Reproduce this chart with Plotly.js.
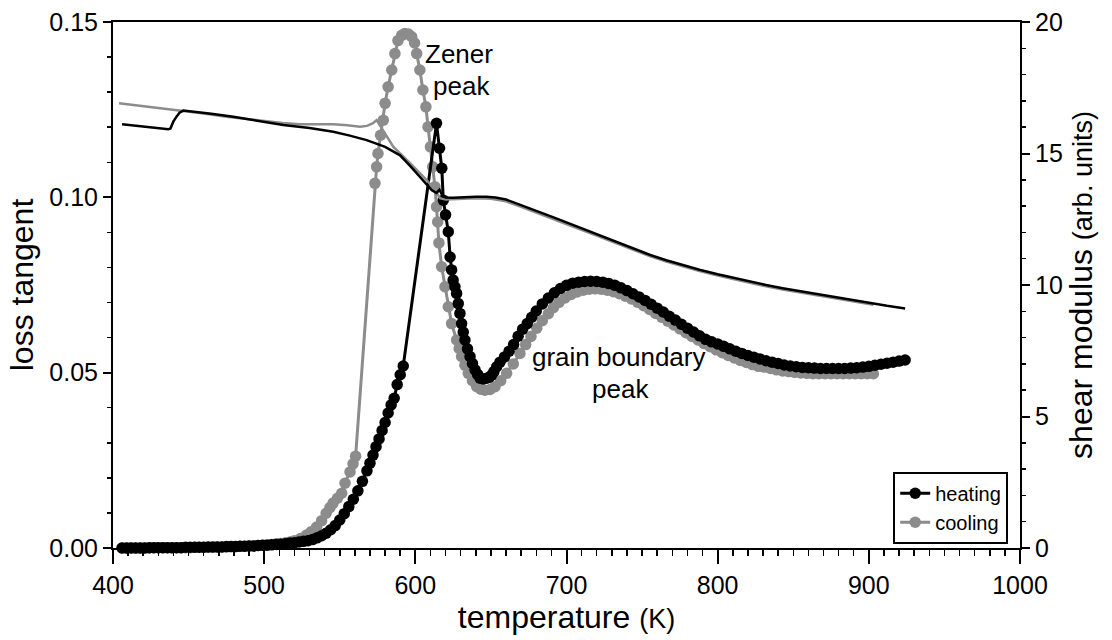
<!DOCTYPE html>
<html><head><meta charset="utf-8">
<script src="https://cdn.plot.ly/plotly-3.0.1.min.js"></script>
<style>html,body{margin:0;padding:0;background:#fff;}#chart{width:1112px;height:640px;}</style>
</head><body><div id="chart"></div>
<script>
// ---- data ----
const heatT = [406,409,412,415,418,421,424,427,430,433,436,439,442,445,448,451,454,457,460,463,466,469,472,475,478,481,484,487,490,493,496,499,502,505,508,511,514,517,520,523,526,529,532,535,538,541,544,547,550,553,556,559,562,565,568,570,572,574,576,578,580,582,584,586,588,590,592,
614,616,617.5,618.5,620,621.8,623,624,625,626.2,627.3,628.4,629.5,630.6,631.7,632.8,634.5,636.2,637.8,639.5,641.2,642.8,645,647.2,649,650.5,652,653.8,656,659,662,665,668,671,674,677,680,684,688,692,696,700,704,708,712,716,720,724,728,732,736,740,744,748,752,756,760,764,768,772,776,780,784,788,792,796,800,804,808,812,816,820,824,828,832,836,840,844,848,852,856,860,864,868,872,876,880,884,888,892,896,900,904,908,912,916,920,924];
const heatTan = [0.0000,0.0000,0.0000,0.0000,0.0000,0.0000,0.0001,0.0001,0.0001,0.0001,0.0001,0.0001,0.0001,0.0001,0.0002,0.0002,0.0002,0.0002,0.0002,0.0003,0.0003,0.0003,0.0003,0.0004,0.0004,0.0004,0.0005,0.0005,0.0006,0.0006,0.0007,0.0008,0.0008,0.0009,0.0010,0.0011,0.0012,0.0014,0.0015,0.0017,0.0019,0.0021,0.0024,0.0029,0.0035,0.0042,0.0052,0.0064,0.0080,0.0098,0.0118,0.0139,0.0163,0.0190,0.0220,0.0242,0.0265,0.0289,0.0311,0.0335,0.0358,0.0385,0.0408,0.0427,0.0466,0.0494,0.0519,
0.1211,0.1140,0.1083,0.0992,0.0950,0.0902,0.0830,0.0793,0.0764,0.0745,0.0726,0.0697,0.0669,0.0640,0.0616,0.0593,0.0568,0.0546,0.0526,0.0508,0.0495,0.0484,0.0482,0.0484,0.0487,0.0493,0.0503,0.0517,0.0530,0.0545,0.0561,0.0580,0.0604,0.0624,0.0640,0.0658,0.0676,0.0696,0.0713,0.0728,0.0740,0.0749,0.0755,0.0758,0.0760,0.0761,0.0760,0.0758,0.0754,0.0749,0.0742,0.0734,0.0725,0.0716,0.0706,0.0695,0.0684,0.0673,0.0661,0.0650,0.0638,0.0627,0.0616,0.0605,0.0595,0.0588,0.0582,0.0575,0.0568,0.0561,0.0555,0.0549,0.0544,0.0539,0.0534,0.0530,0.0526,0.0522,0.0519,0.0517,0.0515,0.0514,0.0513,0.0512,0.0512,0.0512,0.0512,0.0512,0.0513,0.0514,0.0516,0.0518,0.0521,0.0524,0.0527,0.0530,0.0533,0.0536,0.0538];

const coolT = [406,409,412,415,418,421,424,427,430,433,436,439,442,445,448,451,454,457,460,463,466,469,472,475,478,481,484,487,490,493,496,499,502,505,508,511,514,517,520,524,528,531,534.7,538,541,543.5,545.6,548.5,551.3,553.5,556.8,558.8,560.5,
573.3,574.4,575.3,577,578.8,580,582,584.4,586.5,588.5,591,593,595.3,597.6,599.5,600.9,603,605,607,608.4,610,611.5,613,614,614.8,615.6,617.4,619.6,621.8,624,627.3,629,630.6,632.8,635,637.8,640.6,643.3,646,649.4,652.7,656.5,660.4,664.8,669.2,673,676.5,680.3,684,688,691.3,695,699,703,707,711,715,719,723,727,731,735,739,743,747,751,755,759,763,767,771,775,779,783,787,791,795,799,803,807,811,815,819,823,827,831,835,839,843,847,851,855,859,863,867,871,875,879,883,887,891,895,899,903];
const coolTan = [0.0000,0.0000,0.0000,0.0000,0.0000,0.0000,0.0000,0.0001,0.0001,0.0001,0.0001,0.0001,0.0001,0.0001,0.0001,0.0001,0.0002,0.0002,0.0002,0.0002,0.0002,0.0003,0.0003,0.0003,0.0004,0.0004,0.0005,0.0005,0.0006,0.0006,0.0007,0.0008,0.0009,0.0010,0.0012,0.0013,0.0015,0.0017,0.0021,0.0027,0.0037,0.0046,0.0060,0.0078,0.0099,0.0115,0.0128,0.0142,0.0156,0.0185,0.0217,0.0240,0.0262,
0.1040,0.1087,0.1125,0.1177,0.1220,0.1268,0.1315,0.1363,0.1410,0.1447,0.1462,0.1467,0.1466,0.1458,0.1440,0.1410,0.1363,0.1306,0.1258,0.1201,0.1144,0.1087,0.1030,0.0973,0.0930,0.0870,0.0802,0.0745,0.0688,0.0640,0.0593,0.0569,0.0546,0.0521,0.0498,0.0477,0.0460,0.0453,0.0450,0.0452,0.0460,0.0477,0.0498,0.0525,0.0555,0.0580,0.0603,0.0627,0.0648,0.0668,0.0685,0.0700,0.0713,0.0723,0.0730,0.0735,0.0738,0.0739,0.0738,0.0735,0.0731,0.0725,0.0718,0.0710,0.0701,0.0691,0.0680,0.0669,0.0658,0.0647,0.0636,0.0625,0.0614,0.0603,0.0593,0.0583,0.0574,0.0565,0.0557,0.0549,0.0542,0.0535,0.0529,0.0523,0.0518,0.0516,0.0512,0.0508,0.0505,0.0503,0.0501,0.0499,0.0498,0.0497,0.0497,0.0497,0.0497,0.0497,0.0497,0.0497,0.0497,0.0497,0.0497,0.0497];

const heatShearT = [406,415,425,436.6,438,439.9,442,444,446.5,455,465,479.6,495,512.7,530,545.7,556,567.8,580,589.9,597,603,607,610.8,614,616,618,620,625,630,635,640,647,653,660,665,670,680,691,702,713,724,735,744,755,766,777,788,800,810,821,832,843,854,865,876,888,900,912,924];
const heatShear = [16.11,16.06,16.00,15.92,15.95,16.21,16.40,16.55,16.63,16.58,16.51,16.40,16.25,16.08,15.97,15.83,15.69,15.51,15.25,14.93,14.50,14.12,13.85,13.61,13.50,13.62,13.38,13.33,13.32,13.34,13.35,13.36,13.36,13.33,13.25,13.15,13.02,12.82,12.58,12.33,12.09,11.84,11.60,11.38,11.15,10.94,10.75,10.58,10.41,10.28,10.14,10.00,9.88,9.77,9.66,9.56,9.44,9.32,9.21,9.11];

const coolShearT = [404,420,435,446.5,460,475,490,501.7,512,523.7,535,545.8,555,563.4,568,572,574.4,585.4,596.5,607.5,613,616.3,620,630,640,650,660,670,680,691,702,713,724,735,744,755,766,777,788,800,810,821,832,843,854,865,876,888,900,903];
const coolShear = [16.91,16.80,16.70,16.63,16.52,16.40,16.30,16.21,16.16,16.11,16.11,16.11,16.07,16.02,16.05,16.15,16.27,15.26,14.63,13.99,13.61,13.30,13.25,13.28,13.30,13.28,13.18,12.97,12.76,12.52,12.27,12.03,11.78,11.54,11.33,11.10,10.89,10.70,10.53,10.36,10.23,10.09,9.95,9.83,9.72,9.61,9.51,9.39,9.28,9.25];

const seriesNames = ['heating','cooling'];
const xTicks = [400,500,600,700,800,900,1000];

// ---- chart ----
const BLACK = '#000000', GRAY = '#8c8c8c';
const traces = [
  {x: coolShearT, y: coolShear, yaxis: 'y2', mode: 'lines', line: {color: GRAY, width: 2.5}, showlegend: false, cliponaxis: false},
  {x: heatShearT, y: heatShear, yaxis: 'y2', mode: 'lines', line: {color: BLACK, width: 2.5}, showlegend: false, cliponaxis: false},
  {x: coolT, y: coolTan, name: seriesNames[1], mode: 'lines+markers', line: {color: GRAY, width: 3}, marker: {color: GRAY, size: 11.5}, legendrank: 2, cliponaxis: false},
  {x: heatT, y: heatTan, name: seriesNames[0], mode: 'lines+markers', line: {color: BLACK, width: 3}, marker: {color: BLACK, size: 11.5}, legendrank: 1, cliponaxis: false}
];
const FONT = 'Liberation Sans, Arial, sans-serif';
const layout = {
  width: 1112, height: 640,
  margin: {l: 113, r: 92, t: 22, b: 92},
  paper_bgcolor: '#fff', plot_bgcolor: '#fff',
  font: {family: FONT, color: '#000', size: 25},
  showlegend: true,
  legend: {x: 0.987, xanchor: 'right', y: 0.008, yanchor: 'bottom', bgcolor: '#fff', bordercolor: '#000', borderwidth: 2,
           font: {family: FONT, size: 20, color: '#000'}, tracegroupgap: 0, itemwidth: 30},
  xaxis: {range: [400, 1000], tickvals: xTicks, ticks: 'outside', ticklen: 14, tickwidth: 2, tickcolor: '#000',
          showline: true, linewidth: 2, linecolor: '#000', mirror: true, showgrid: false, zeroline: false,
          minor: {dtick: 10, ticks: 'outside', ticklen: 6, tickwidth: 1.5, tickcolor: '#000', showgrid: false},
          tickfont: {size: 25}, title: {text: 'temperature <span style="font-size:27px">(K)</span>', font: {size: 32}, standoff: 4}},
  yaxis: {range: [0, 0.15], dtick: 0.05, tickformat: '.2f', ticks: 'outside', ticklen: 8, tickwidth: 2, tickcolor: '#000',
          showline: true, linewidth: 2, linecolor: '#000', showgrid: false, zeroline: false,
          minor: {dtick: 0.01, ticks: 'outside', ticklen: 4, tickwidth: 1.5, tickcolor: '#000', showgrid: false},
          tickfont: {size: 25}, title: {text: 'loss tangent', font: {size: 32}, standoff: 6}},
  yaxis2: {range: [0, 20], dtick: 5, overlaying: 'y', side: 'right', ticks: 'outside', ticklen: 8, tickwidth: 2, tickcolor: '#000',
           showline: true, linewidth: 2, linecolor: '#000', showgrid: false, zeroline: false,
           minor: {dtick: 1, ticks: 'outside', ticklen: 4, tickwidth: 1.5, tickcolor: '#000', showgrid: false},
           tickfont: {size: 25}, title: {text: 'shear modulus <span style="font-size:27px">(arb. units)</span>', font: {size: 32}, standoff: 6}},
  annotations: [
    {x: 605, y: 0.1409, xref: 'x', yref: 'y', text: 'Zener', showarrow: false, xanchor: 'left', yanchor: 'middle', font: {size: 26}},
    {x: 610.4, y: 0.1317, xref: 'x', yref: 'y', text: 'peak', showarrow: false, xanchor: 'left', yanchor: 'middle', font: {size: 26}},
    {x: 734.4, y: 0.0545, xref: 'x', yref: 'y', text: 'grain boundary', showarrow: false, xanchor: 'center', yanchor: 'middle', font: {size: 26}},
    {x: 735.4, y: 0.0453, xref: 'x', yref: 'y', text: 'peak', showarrow: false, xanchor: 'center', yanchor: 'middle', font: {size: 26}}
  ]
};
Plotly.newPlot('chart', traces, layout, {displayModeBar: false, staticPlot: true});
</script>
</body></html>
